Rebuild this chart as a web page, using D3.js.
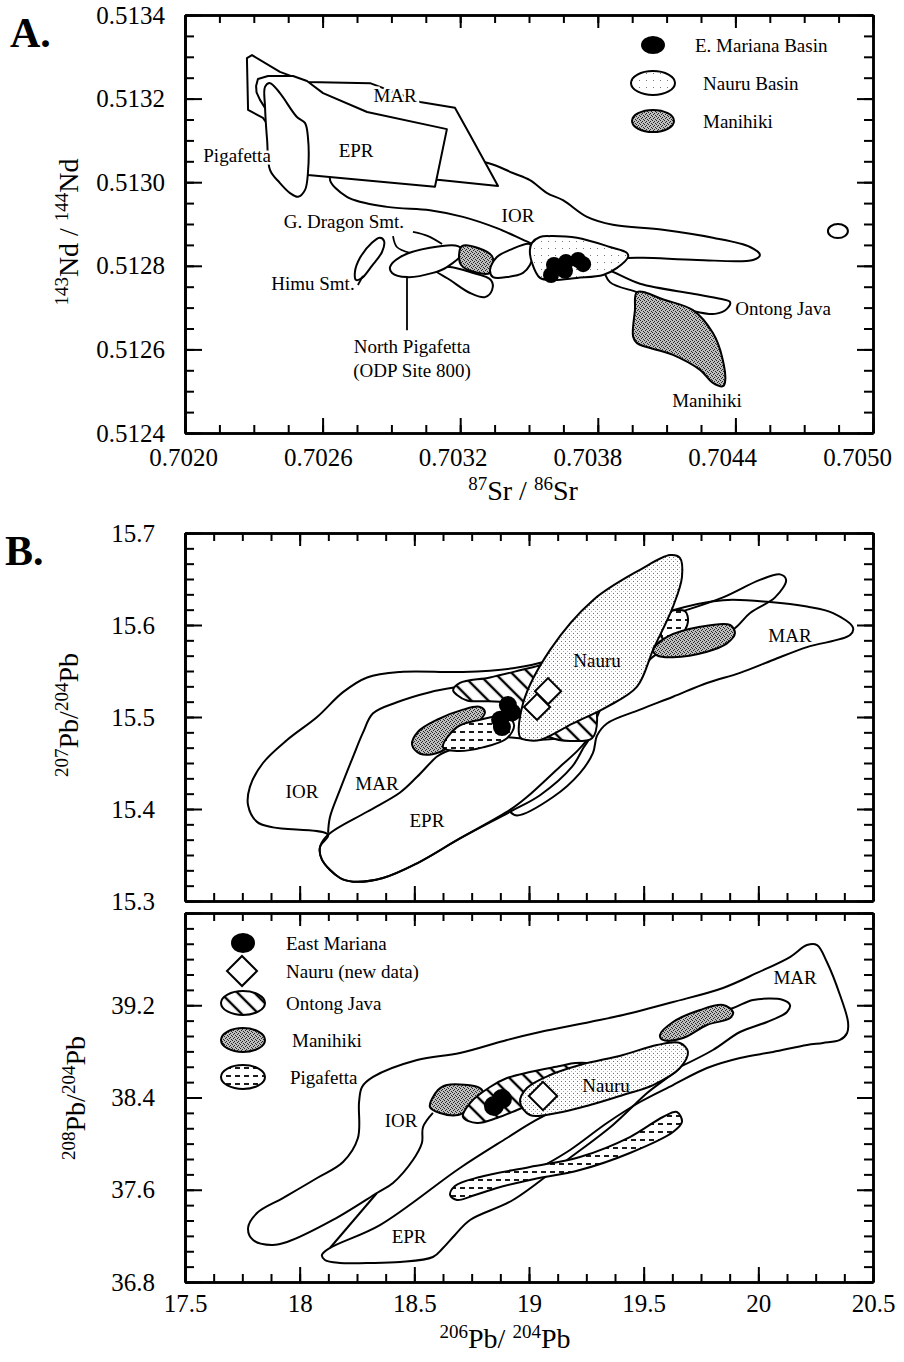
<!DOCTYPE html>
<html>
<head>
<meta charset="utf-8">
<script src="https://cdn.jsdelivr.net/npm/d3@7"></script>
<style>
  body { margin: 0; background: #fff; }
  svg text { fill: #000; }
</style>
</head>
<body>
<svg id="fig" width="904" height="1362"></svg>
<script>
// ---------- tick values ----------
const aXTicks = [0.7020, 0.7026, 0.7032, 0.7038, 0.7044, 0.7050];
const aYTicks = [0.5124, 0.5126, 0.5128, 0.5130, 0.5132, 0.5134];
const bXTicks = [17.5, 18, 18.5, 19, 19.5, 20, 20.5];
const b1YTicks = [15.3, 15.4, 15.5, 15.6, 15.7];
const b2YTicks = [36.8, 37.6, 38.4, 39.2, 40.0];
const b2YLabelled = [36.8, 37.6, 38.4, 39.2];

// ---------- legends ----------
const aLegend = ["E. Mariana Basin", "Nauru Basin", "Manihiki"];
const bLegend = ["East Mariana", "Nauru (new data)", "Ontong Java", "Manihiki", "Pigafetta"];

// ---------- panel A : 87Sr/86Sr vs 143Nd/144Nd ----------
const aIOR = [[0.702632,0.513010],[0.702763,0.513053],[0.702938,0.513077],[0.703321,0.513046],[0.703430,0.513022],[0.703504,0.513005],[0.703579,0.512974],[0.703648,0.512957],[0.703753,0.512917],[0.703866,0.512898],[0.704084,0.512886],[0.704302,0.512867],[0.704464,0.512845],[0.704507,0.512826],[0.704477,0.512814],[0.704233,0.512814],[0.703997,0.512819],[0.703853,0.512819],[0.703635,0.512826],[0.703504,0.512855],[0.703360,0.512890],[0.703212,0.512917],[0.703068,0.512933],[0.702881,0.512941],[0.702706,0.512965]];
const aMAR = [[0.702270,0.513297],[0.702292,0.513304],[0.702414,0.513264],[0.702532,0.513240],[0.702807,0.513237],[0.703025,0.513192],[0.703177,0.513178],[0.703243,0.513113],[0.703365,0.512991],[0.703112,0.513005],[0.702850,0.513015],[0.702501,0.513029],[0.702340,0.513154],[0.702275,0.513173]];
const aEPR = [[0.702327,0.513197],[0.702312,0.513215],[0.702310,0.513230],[0.702318,0.513247],[0.702362,0.513254],[0.702471,0.513254],[0.702532,0.513242],[0.702602,0.513213],[0.702794,0.513168],[0.703142,0.513127],[0.703090,0.512989],[0.702536,0.513017],[0.702436,0.513101]];
const aPigafetta = [[0.702349,0.513228],[0.702371,0.513237],[0.702414,0.513213],[0.702488,0.513156],[0.702523,0.513142],[0.702536,0.513108],[0.702536,0.513022],[0.702523,0.512981],[0.702493,0.512965],[0.702458,0.512974],[0.702414,0.512998],[0.702371,0.513029],[0.702358,0.513101],[0.702349,0.513180]];
const aHimu = [[0.702741,0.512785],[0.702763,0.512819],[0.702815,0.512855],[0.702850,0.512867],[0.702868,0.512859],[0.702859,0.512833],[0.702815,0.512800],[0.702772,0.512771],[0.702746,0.512766]];
const aNorthPigafetta = [[0.702894,0.512797],[0.702938,0.512821],[0.703068,0.512843],[0.703190,0.512847],[0.703212,0.512833],[0.703142,0.512797],[0.703081,0.512783],[0.702968,0.512773],[0.702903,0.512783]];
const aSmtLower = [[0.703077,0.512795],[0.703156,0.512766],[0.703243,0.512735],[0.703308,0.512725],[0.703339,0.512742],[0.703334,0.512766],[0.703243,0.512785],[0.703156,0.512797]];
const aManihikiSmall = [[0.703208,0.512847],[0.703339,0.512823],[0.703330,0.512783],[0.703204,0.512802]];
const aSmtEast = [[0.703330,0.512790],[0.703360,0.512821],[0.703417,0.512838],[0.703504,0.512852],[0.703517,0.512826],[0.703504,0.512802],[0.703474,0.512783],[0.703404,0.512773],[0.703343,0.512773]];
const aNauruBasin = [[0.703513,0.512855],[0.703548,0.512869],[0.703592,0.512871],[0.703709,0.512867],[0.703853,0.512845],[0.703927,0.512831],[0.703932,0.512821],[0.703884,0.512795],[0.703823,0.512778],[0.703709,0.512771],[0.703605,0.512766],[0.703548,0.512771],[0.703513,0.512807],[0.703504,0.512838]];
const aOntongJava = [[0.703831,0.512790],[0.703984,0.512757],[0.704215,0.512733],[0.704333,0.512721],[0.704377,0.512713],[0.704363,0.512697],[0.704311,0.512685],[0.704215,0.512692],[0.704071,0.512718],[0.703971,0.512737],[0.703853,0.512761]];
const aManihiki = [[0.703971,0.512737],[0.704093,0.512718],[0.704215,0.512694],[0.704302,0.512639],[0.704342,0.512582],[0.704355,0.512522],[0.704346,0.512512],[0.704302,0.512520],[0.704246,0.512551],[0.704128,0.512587],[0.703971,0.512615],[0.703954,0.512630],[0.703962,0.512694]];
const aEMariana = [[0.703596,0.512778],[0.703609,0.512802],[0.703661,0.512809],[0.703714,0.512814],[0.703736,0.512804],[0.703657,0.512788]];
const aSinglePoint = [[0.704847,0.512883]];
const aLeaders = [
  [[0.702994,0.512881],[0.703060,0.512871],[0.703121,0.512852]],
  [[0.702907,0.512871],[0.702924,0.512845],[0.702981,0.512831]],
  [[0.702968,0.512773],[0.702968,0.512646]],
  [[0.702754,0.512754],[0.702776,0.512776]]
];
const aLabels = [
  {t: "MAR", x: 0.702916, y: 0.513192}, {t: "EPR", x: 0.702746, y: 0.513060},
  {t: "Pigafetta", x: 0.702227, y: 0.513048}, {t: "IOR", x: 0.703452, y: 0.512905},
  {t: "G. Dragon Smt.", x: 0.702693, y: 0.512890}, {t: "Himu Smt.", x: 0.702558, y: 0.512742},
  {t: "North Pigafetta", x: 0.702990, y: 0.512591}, {t: "(ODP Site 800)", x: 0.702990, y: 0.512534},
  {t: "Ontong Java", x: 0.704608, y: 0.512682}, {t: "Manihiki", x: 0.704276, y: 0.512462}
];

// ---------- panel B (upper) : 206Pb/204Pb vs 207Pb/204Pb ----------
const b1IOR = [[17.775,15.404],[17.783,15.424],[17.840,15.450],[17.945,15.475],[18.076,15.500],[18.189,15.527],[18.294,15.543],[18.438,15.549],[18.712,15.549],[18.930,15.553],[19.092,15.562],[19.397,15.595],[19.658,15.614],[19.846,15.630],[20.007,15.649],[20.095,15.655],[20.121,15.649],[20.073,15.630],[19.964,15.613],[19.890,15.595],[19.702,15.575],[19.549,15.567],[19.484,15.549],[19.323,15.513],[19.266,15.480],[19.214,15.464],[19.135,15.446],[18.991,15.413],[18.917,15.399],[18.699,15.368],[18.512,15.341],[18.363,15.325],[18.233,15.321],[18.176,15.325],[18.097,15.345],[18.089,15.359],[18.124,15.372],[17.884,15.380],[17.814,15.386]];
const b1MAR = [[18.124,15.374],[18.132,15.391],[18.176,15.421],[18.233,15.457],[18.276,15.483],[18.320,15.504],[18.424,15.516],[18.568,15.527],[18.743,15.535],[18.961,15.546],[19.310,15.584],[19.628,15.616],[19.846,15.627],[20.051,15.625],[20.212,15.620],[20.326,15.613],[20.413,15.597],[20.400,15.589],[20.212,15.576],[20.064,15.562],[19.920,15.548],[19.776,15.537],[19.628,15.522],[19.484,15.508],[19.340,15.493],[19.297,15.480],[19.279,15.461],[19.222,15.439],[19.105,15.413],[18.948,15.393],[18.917,15.397]];
const b1EPR = [[18.124,15.372],[18.089,15.359],[18.097,15.345],[18.176,15.325],[18.233,15.321],[18.363,15.325],[18.512,15.341],[18.699,15.368],[18.917,15.397],[19.048,15.415],[19.188,15.446],[19.236,15.466],[19.266,15.480],[19.157,15.477],[19.026,15.475],[18.895,15.478],[18.743,15.470],[18.634,15.462],[18.599,15.457],[18.512,15.435],[18.438,15.418],[18.294,15.397]];
const b1OntongJava = [[18.669,15.529],[18.699,15.537],[18.830,15.543],[19.017,15.554],[19.135,15.560],[19.266,15.529],[19.297,15.497],[19.275,15.477],[19.179,15.474],[19.092,15.478],[18.991,15.497],[18.904,15.515],[18.730,15.518],[18.686,15.524]];
const b1ManihikiW = [[18.490,15.470],[18.516,15.484],[18.599,15.497],[18.712,15.508],[18.786,15.511],[18.808,15.505],[18.765,15.491],[18.699,15.477],[18.612,15.462],[18.525,15.460]];
const b1PigafettaW = [[18.625,15.467],[18.686,15.489],[18.786,15.497],[18.904,15.501],[18.935,15.491],[18.904,15.477],[18.799,15.467],[18.686,15.463]];
const b1Nauru = [[18.961,15.478],[18.974,15.515],[19.092,15.573],[19.279,15.627],[19.484,15.660],[19.615,15.676],[19.658,15.673],[19.667,15.652],[19.628,15.620],[19.541,15.573],[19.471,15.533],[19.340,15.511],[19.192,15.493],[19.048,15.475],[18.991,15.475]];
const b1PigafettaE = [[19.606,15.613],[19.680,15.615],[19.693,15.603],[19.658,15.588],[19.580,15.586]];
const b1ManihikiE = [[19.541,15.573],[19.602,15.587],[19.746,15.598],[19.877,15.600],[19.898,15.591],[19.863,15.580],[19.776,15.571],[19.628,15.565],[19.558,15.567]];
const b1EastMariana = [[18.908,15.513],[18.926,15.505],[18.874,15.497],[18.882,15.489]];
const b1NauruNew = [[19.083,15.528],[19.035,15.511]];
const b1Labels = [
  {t: "IOR", x: 18.010, y: 15.412}, {t: "MAR", x: 18.337, y: 15.421}, {t: "EPR", x: 18.555, y: 15.380},
  {t: "Nauru", x: 19.297, y: 15.554}, {t: "MAR", x: 20.138, y: 15.582}
];

// ---------- panel B (lower) : 206Pb/204Pb vs 208Pb/204Pb ----------
const b2Outline = [[18.581,38.266],[18.538,38.144],[18.533,38.005],[18.494,37.858],[18.407,37.659],[18.337,37.572],[18.145,37.338],[17.945,37.147],[17.879,37.121],[17.797,37.164],[17.775,37.268],[17.814,37.398],[17.927,37.528],[18.076,37.702],[18.189,37.841],[18.254,38.049],[18.259,38.361],[18.272,38.491],[18.320,38.578],[18.512,38.725],[18.699,38.786],[18.904,38.899],[19.048,38.968],[19.266,39.055],[19.410,39.115],[19.628,39.228],[19.846,39.350],[19.994,39.480],[20.138,39.618],[20.212,39.722],[20.256,39.722],[20.299,39.575],[20.356,39.289],[20.391,39.055],[20.387,38.959],[20.356,38.899],[20.282,38.873],[20.212,38.855],[20.064,38.795],[19.920,38.743],[19.776,38.656],[19.628,38.508],[19.484,38.361],[19.340,38.179],[19.179,37.945],[19.070,37.815]];
const b2MarLeft = [[18.132,37.095],[18.337,37.572]];
const b2IorTail = [[19.724,39.089],[19.890,39.176],[19.977,39.246],[20.108,39.246],[20.138,39.202],[20.125,39.141],[20.038,39.055],[19.920,38.968],[19.802,38.812],[19.658,38.665]];
const b2EPR = [[19.658,38.665],[19.515,38.439],[19.366,38.162],[19.166,37.858],[18.930,37.511],[18.743,37.338],[18.677,37.208],[18.625,37.095],[18.581,37.017],[18.438,36.973],[18.294,36.965],[18.176,36.965],[18.110,36.991],[18.097,37.034],[18.132,37.095],[18.350,37.294],[18.699,37.789],[18.904,38.049],[19.017,38.188],[19.135,38.309],[19.397,38.482],[19.571,38.621]];
const b2ManihikiW = [[18.568,38.318],[18.603,38.465],[18.642,38.508],[18.786,38.482],[18.799,38.439],[18.730,38.292],[18.690,38.248],[18.612,38.266]];
const b2OntongJava = [[18.712,38.231],[18.743,38.352],[18.830,38.491],[18.904,38.569],[19.004,38.621],[19.135,38.673],[19.201,38.699],[19.266,38.691],[19.288,38.638],[19.179,38.508],[19.048,38.378],[18.948,38.292],[18.860,38.222],[18.773,38.179]];
const b2Nauru = [[18.961,38.361],[18.991,38.482],[19.092,38.595],[19.222,38.682],[19.410,38.769],[19.558,38.855],[19.658,38.873],[19.693,38.795],[19.658,38.656],[19.541,38.508],[19.410,38.422],[19.266,38.335],[19.122,38.266],[19.004,38.248]];
const b2ManihikiE = [[19.571,38.942],[19.628,39.055],[19.746,39.159],[19.846,39.202],[19.890,39.141],[19.877,39.089],[19.776,39.029],[19.672,38.916],[19.584,38.899]];
const b2Pigafetta = [[18.656,37.554],[18.677,37.633],[18.786,37.711],[19.004,37.797],[19.222,37.884],[19.440,38.057],[19.584,38.231],[19.645,38.274],[19.667,38.188],[19.628,38.101],[19.440,37.919],[19.222,37.771],[19.004,37.685],[18.860,37.615],[18.765,37.554],[18.686,37.511]];
const b2EastMariana = [[18.847,38.326],[18.882,38.387]];
const b2NauruNew = [[19.061,38.413]];
const b2Labels = [
  {t: "IOR", x: 18.442, y: 38.144}, {t: "EPR", x: 18.477, y: 37.138},
  {t: "Nauru", x: 19.336, y: 38.448}, {t: "MAR", x: 20.160, y: 39.384}
];

// ---------- set-up ----------
const FONT = "'Liberation Serif', 'Times New Roman', serif";
const svg = d3.select("#fig");
const defs = svg.append("defs");

const xA = d3.scaleLinear().domain([0.7020, 0.7050]).range([185, 873]);
const yA = d3.scaleLinear().domain([0.5124, 0.5134]).range([433, 15]);
const xB = d3.scaleLinear().domain([17.5, 20.5]).range([185, 873]);
const yB1 = d3.scaleLinear().domain([15.3, 15.7]).range([901, 533]);
const yB2 = d3.scaleLinear().domain([36.8, 40.0]).range([1282, 913]);

// fill patterns
function addPattern(id, w, h, bg, transform) {
  const p = defs.append("pattern").attr("id", id)
    .attr("patternUnits", "userSpaceOnUse").attr("width", w).attr("height", h);
  if (transform) p.attr("patternTransform", transform);
  p.append("rect").attr("width", w).attr("height", h).attr("fill", bg);
  return p;
}
let pat = addPattern("pManihiki", 4, 4, "#bdbdbd");
[[0, 0], [2, 1], [1, 2], [3, 3]].forEach(([a, b]) =>
  pat.append("rect").attr("x", a).attr("y", b).attr("width", 1).attr("height", 1).attr("fill", "#262626"));
pat = addPattern("pNauru", 4, 4, "#fff");
pat.append("rect").attr("x", 1).attr("y", 1).attr("width", 1).attr("height", 1).attr("fill", "#6a6a6a");
pat.append("rect").attr("x", 3).attr("y", 3).attr("width", 1).attr("height", 1).attr("fill", "#b0b0b0");
pat = addPattern("pNauruA", 7, 7, "#fff");
pat.append("rect").attr("x", 2).attr("y", 3).attr("width", 1).attr("height", 1).attr("fill", "#777");
pat = addPattern("pHatch", 12, 12, "#fff", "rotate(-45)");
pat.append("line").attr("x1", 6).attr("x2", 6).attr("y1", 0).attr("y2", 12).attr("stroke", "#000").attr("stroke-width", 2.4);
pat = addPattern("pDash", 9, 8, "#fff");
pat.append("line").attr("x1", 1).attr("x2", 6).attr("y1", 4).attr("y2", 4).attr("stroke", "#000").attr("stroke-width", 1.8);

const smooth = d3.curveCatmullRomClosed.alpha(0.5);
const smoothOpen = d3.curveCatmullRom.alpha(0.5);
const sharp = d3.curveLinearClosed;

function drawField(g, pts, x, y, fill, curve = smooth) {
  const line = d3.line().x(d => x(d[0])).y(d => y(d[1])).curve(curve);
  g.append("path").attr("d", line(pts))
    .attr("fill", fill).attr("stroke", "#000").attr("stroke-width", 2)
    .attr("stroke-linejoin", "round");
}

function drawDots(g, pts, x, y, r) {
  g.selectAll(null).data(pts).join("circle")
    .attr("cx", d => x(d[0])).attr("cy", d => y(d[1])).attr("r", r).attr("fill", "#000");
}

function drawDiamonds(g, pts, x, y, size) {
  g.selectAll(null).data(pts).join("path")
    .attr("d", d3.symbol().type(d3.symbolSquare).size(size))
    .attr("transform", d => `translate(${x(d[0])},${y(d[1])}) rotate(45)`)
    .attr("fill", "#fff").attr("stroke", "#000").attr("stroke-width", 2);
}

function drawLabels(g, labels, x, y, halo) {
  const t = g.selectAll(null).data(labels).join("text")
    .attr("x", d => x(d.x)).attr("y", d => y(d.y))
    .attr("text-anchor", "middle").attr("font-family", FONT).attr("font-size", 19)
    .text(d => d.t);
  if (halo) t.attr("stroke", "#fff").attr("stroke-width", 5).attr("paint-order", "stroke");
}

function drawAxes(g, x, y, o) {
  const [xl, xr] = x.range(), [yb, yt] = y.range();
  const put = (axis, tr, vals, size, fmt, pad, dx) => {
    const a = g.append("g").attr("transform", tr)
      .call(axis.tickValues(vals).tickSize(-size).tickSizeOuter(0)
        .tickPadding(pad || 3).tickFormat(fmt || (() => "")));
    a.attr("font-family", FONT).attr("font-size", 25);
    a.selectAll(".tick line").attr("stroke-width", 2);
    a.select(".domain").attr("stroke-width", 2.5);
    if (dx) a.selectAll("text").attr("dx", dx);
    return a;
  };
  put(d3.axisBottom(x), `translate(0,${yb})`, o.xMinor, 8);
  put(d3.axisTop(x), `translate(0,${yt})`, o.xMinor, 8);
  put(d3.axisLeft(y), `translate(${xl},0)`, o.yMinor, 9);
  put(d3.axisRight(y), `translate(${xr},0)`, o.yMinor, 9);
  put(d3.axisBottom(x), `translate(0,${yb})`, o.xMajor, 15, o.xFmt, o.xPad, o.xDx);
  put(d3.axisTop(x), `translate(0,${yt})`, o.xMajor, 13);
  put(d3.axisLeft(y), `translate(${xl},0)`, o.yMajor, 17, null);
  put(d3.axisRight(y), `translate(${xr},0)`, o.yMajor, 16);
  if (o.yLabelled) put(d3.axisLeft(y), `translate(${xl},0)`, o.yLabelled, 0, o.yFmt, o.yPad);
}

function axisTitle(parts, tr) {
  const t = svg.append("text").attr("transform", tr).attr("text-anchor", "middle").attr("font-family", FONT);
  parts.forEach(([s, sup], i) => {
    t.append("tspan").attr("font-size", sup ? 19 : 28)
      .attr("dy", sup ? -10 : (i ? 10 : 0)).text(s);
  });
}

const range = (a, b, step) => d3.range(Math.round((b - a) / step) + 1).map(i => a + i * step);

// ---------- panel A ----------
const gA = svg.append("g");
drawField(gA, aIOR, xA, yA, "#fff");
drawField(gA, aMAR, xA, yA, "#fff", sharp);
drawField(gA, aEPR, xA, yA, "#fff", sharp);
drawField(gA, aPigafetta, xA, yA, "#fff");
drawField(gA, aOntongJava, xA, yA, "#fff");
drawField(gA, aManihiki, xA, yA, "url(#pManihiki)");
drawField(gA, aSmtLower, xA, yA, "#fff");
drawField(gA, aNorthPigafetta, xA, yA, "#fff");
drawField(gA, aManihikiSmall, xA, yA, "url(#pManihiki)");
drawField(gA, aSmtEast, xA, yA, "#fff");
drawField(gA, aNauruBasin, xA, yA, "url(#pNauruA)");
drawField(gA, aHimu, xA, yA, "none");
aLeaders.forEach(l => gA.append("path")
  .attr("d", d3.line().x(d => xA(d[0])).y(d => yA(d[1])).curve(smoothOpen)(l))
  .attr("fill", "none").attr("stroke", "#000").attr("stroke-width", 1.8));
drawDots(gA, aEMariana, xA, yA, 8);
gA.selectAll(null).data(aSinglePoint).join("ellipse")
  .attr("cx", d => xA(d[0])).attr("cy", d => yA(d[1])).attr("rx", 10).attr("ry", 7)
  .attr("fill", "#fff").attr("stroke", "#000").attr("stroke-width", 2);
drawLabels(gA, aLabels, xA, yA, true);
drawAxes(gA, xA, yA, {
  xMajor: aXTicks, xMinor: range(0.7020, 0.7050, 0.00015),
  yMajor: aYTicks, yMinor: range(0.5124, 0.5134, 0.00005), yLabelled: aYTicks,
  xFmt: d3.format(".4f"), yFmt: d3.format(".4f"), xPad: 15, yPad: 20,
  xDx: (d, i) => -(2 + i * 2.8)
});
// legend A
const aLegendFill = ["#000", "url(#pNauruA)", "url(#pManihiki)"];
const aLegendR = [[11, 8], [22, 12], [21, 11]];
aLegend.forEach((name, i) => {
  const cy = 45 + i * 38;
  gA.append("ellipse").attr("cx", 653).attr("cy", cy).attr("rx", aLegendR[i][0]).attr("ry", aLegendR[i][1])
    .attr("fill", aLegendFill[i]).attr("stroke", "#000").attr("stroke-width", 2);
  gA.append("text").attr("x", i ? 703 : 695).attr("y", cy + 7).attr("font-family", FONT)
    .attr("font-size", 19).text(name);
});

// ---------- panel B upper ----------
const gB1 = svg.append("g");
drawField(gB1, b1IOR, xB, yB1, "none");
drawField(gB1, b1MAR, xB, yB1, "none", smoothOpen);
drawField(gB1, b1EPR, xB, yB1, "none");
drawField(gB1, b1OntongJava, xB, yB1, "url(#pHatch)");
drawField(gB1, b1ManihikiW, xB, yB1, "url(#pManihiki)");
drawField(gB1, b1PigafettaW, xB, yB1, "url(#pDash)");
drawField(gB1, b1PigafettaE, xB, yB1, "url(#pDash)");
drawField(gB1, b1Nauru, xB, yB1, "url(#pNauru)");
drawField(gB1, b1ManihikiE, xB, yB1, "url(#pManihiki)");
drawDots(gB1, b1EastMariana, xB, yB1, 9);
drawDiamonds(gB1, b1NauruNew, xB, yB1, 340);
drawLabels(gB1, b1Labels, xB, yB1, false);
drawAxes(gB1, xB, yB1, {
  xMajor: bXTicks, xMinor: range(17.5, 20.5, 0.125),
  yMajor: b1YTicks, yMinor: range(15.3, 15.7, 0.1 / 6), yLabelled: b1YTicks,
  yFmt: d3.format(".1f"), yPad: 30
});

// ---------- panel B lower ----------
const gB2 = svg.append("g");
drawField(gB2, b2Outline, xB, yB2, "none", smoothOpen);
drawField(gB2, b2MarLeft, xB, yB2, "none", smoothOpen);
drawField(gB2, b2IorTail, xB, yB2, "none", smoothOpen);
drawField(gB2, b2EPR, xB, yB2, "none");
drawField(gB2, b2Pigafetta, xB, yB2, "url(#pDash)");
drawField(gB2, b2ManihikiW, xB, yB2, "url(#pManihiki)");
drawField(gB2, b2OntongJava, xB, yB2, "url(#pHatch)");
drawDots(gB2, b2EastMariana, xB, yB2, 10);
drawField(gB2, b2Nauru, xB, yB2, "url(#pNauru)");
drawField(gB2, b2ManihikiE, xB, yB2, "url(#pManihiki)");
drawDiamonds(gB2, b2NauruNew, xB, yB2, 400);
drawLabels(gB2, b2Labels, xB, yB2, false);
drawAxes(gB2, xB, yB2, {
  xMajor: bXTicks, xMinor: range(17.5, 20.5, 0.125),
  yMajor: b2YTicks, yMinor: range(36.8, 40.0, 0.8 / 6), yLabelled: b2YLabelled,
  xFmt: d3.format(".1~f"), yFmt: d3.format(".1f"), xPad: 12, yPad: 30
});
// legend B
const bLegendFill = ["#000", null, "url(#pHatch)", "url(#pManihiki)", "url(#pDash)"];
const bLegendY = [943, 971, 1003, 1040, 1077];
const bLegendTextX = [286, 286, 286, 292, 290];
bLegend.forEach((name, i) => {
  const cy = bLegendY[i];
  if (i === 1) {
    gB2.append("path").attr("d", d3.symbol().type(d3.symbolSquare).size(450))
      .attr("transform", `translate(242,${cy}) rotate(45)`)
      .attr("fill", "#fff").attr("stroke", "#000").attr("stroke-width", 2);
  } else {
    gB2.append("ellipse").attr("cx", 243).attr("cy", cy)
      .attr("rx", i ? 22 : 11).attr("ry", i ? 12 : 9)
      .attr("fill", bLegendFill[i]).attr("stroke", "#000").attr("stroke-width", 2);
  }
  gB2.append("text").attr("x", bLegendTextX[i]).attr("y", cy + 7).attr("font-family", FONT)
    .attr("font-size", 19).text(name);
});

// ---------- titles ----------
svg.append("text").attr("x", 10).attr("y", 47).attr("font-family", FONT)
  .attr("font-size", 42).attr("font-weight", "bold").text("A.");
svg.append("text").attr("x", 5).attr("y", 565).attr("font-family", FONT)
  .attr("font-size", 42).attr("font-weight", "bold").text("B.");

axisTitle([["87", true], ["Sr / ", false], ["86", true], ["Sr", false]], "translate(523,500)");
axisTitle([["143", true], ["Nd / ", false], ["144", true], ["Nd", false]], "translate(78,232) rotate(-90)");
axisTitle([["207", true], ["Pb/", false], ["204", true], ["Pb", false]], "translate(78,715) rotate(-90)");
axisTitle([["208", true], ["Pb/", false], ["204", true], ["Pb", false]], "translate(85,1098) rotate(-90)");
axisTitle([["206", true], ["Pb/ ", false], ["204", true], ["Pb", false]], "translate(505,1348)");
</script>
</body>
</html>
